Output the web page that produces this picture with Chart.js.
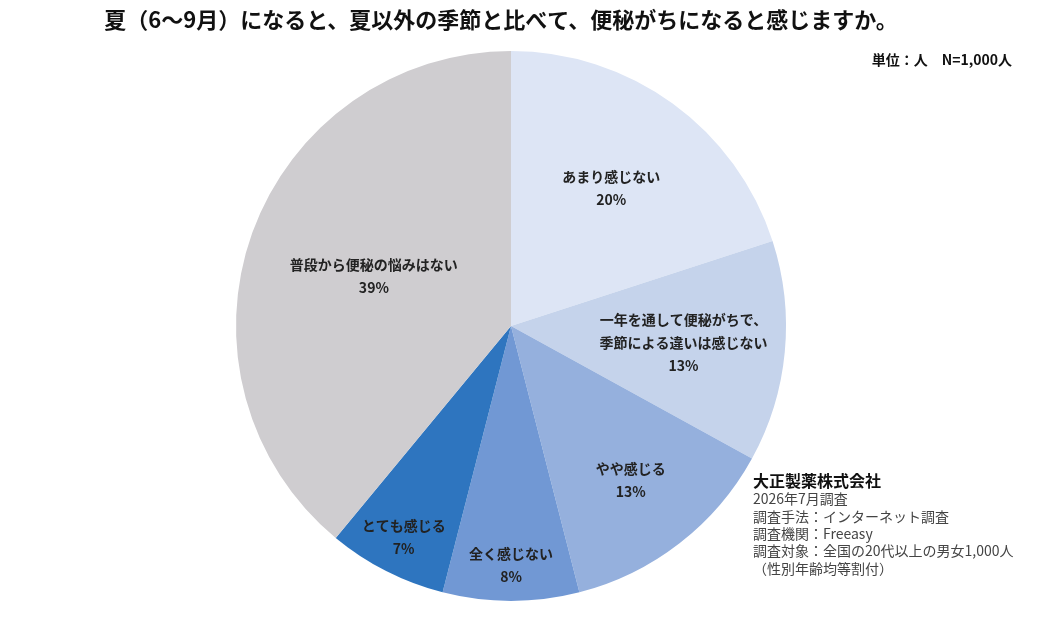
<!DOCTYPE html>
<html lang="ja">
<head>
<meta charset="utf-8">
<script src="https://cdn.jsdelivr.net/npm/chart.js@4"></script>
<style>
  html, body { margin: 0; padding: 0; background: #fff; }
  #wrap { width: 1060px; height: 618px; position: relative; }
</style>
</head>
<body>
<div id="wrap"><canvas id="myChart" width="1060" height="618"></canvas></div>
<script>
// data (clockwise from 12 o'clock)
const categories = [
    ['あまり感じない'],
    ['一年を通して便秘がちで、', '季節による違いは感じない'],
    ['やや感じる'],
    ['全く感じない'],
    ['とても感じる'],
    ['普段から便秘の悩みはない']
];
const shares = [20, 13, 13, 8, 7, 39];

const titleText = '夏（6～9月）になると、夏以外の季節と比べて、便秘がちになると感じますか。';
const unitText = '単位：人　N=1,000人';
const noteHead = '大正製薬株式会社';
const noteLines = [
    '2026年7月調査',
    '調査手法：インターネット調査',
    '調査機関：Freeasy',
    '調査対象：全国の20代以上の男女1,000人',
    '（性別年齢均等割付）'
];

// styles
const sliceColors = ['#dde5f5', '#c5d3eb', '#95b0dd', '#7198d4', '#2e75bf', '#cfcdd0'];
const labelRadius = [0.62, 0.63, 0.71, 0.87, 0.86, 0.53];
const FONT = '"Noto Sans CJK JP", "Noto Sans", sans-serif';

// slice labels: name lines + percentage, put along the middle angle of each arc
const sliceLabels = {
    id: 'sliceLabels',
    afterDatasetsDraw(c) {
        const ctx = c.ctx;
        const meta = c.getDatasetMeta(0);
        ctx.save();
        ctx.fillStyle = '#222';
        ctx.textAlign = 'center';
        ctx.textBaseline = 'middle';
        ctx.font = '600 14px ' + FONT;
        meta.data.forEach((arc, i) => {
            const p = arc.getProps(['x', 'y', 'startAngle', 'endAngle', 'outerRadius'], true);
            const mid = (p.startAngle + p.endAngle) / 2;
            const r = p.outerRadius * labelRadius[i];
            const cx = p.x + Math.cos(mid) * r;
            const cy = p.y + Math.sin(mid) * r;
            const lines = categories[i].concat([shares[i] + '%']);
            const lh = 23;
            const top = cy - (lines.length - 1) * lh / 2;
            lines.forEach((t, k) => ctx.fillText(t, cx, top + k * lh));
        });
        ctx.restore();
    }
};

// title, unit and survey note
const extraText = {
    id: 'extraText',
    afterDraw(c) {
        const ctx = c.ctx;
        ctx.save();
        ctx.fillStyle = '#111';
        ctx.textBaseline = 'middle';
        ctx.textAlign = 'center';
        ctx.font = 'bold 22px ' + FONT;
        ctx.fillText(titleText, 501, 20);

        ctx.textAlign = 'right';
        ctx.font = 'bold 14px ' + FONT;
        ctx.fillText(unitText, 1012, 60);

        ctx.textAlign = 'left';
        ctx.font = 'bold 16px ' + FONT;
        ctx.fillText(noteHead, 753, 481);
        ctx.fillStyle = '#444';
        ctx.font = '14px ' + FONT;
        noteLines.forEach((t, k) => ctx.fillText(t, 753, 499 + k * 17.3));
        ctx.restore();
    }
};

const chart = new Chart(document.getElementById('myChart').getContext('2d'), {
    type: 'pie',
    data: {
        labels: categories.map(l => l.join('')),
        datasets: [{
            data: shares,
            backgroundColor: sliceColors,
            borderWidth: 0
        }]
    },
    options: {
        responsive: false,
        animation: false,
        layout: { padding: { left: 236, right: 274, top: 51, bottom: 17 } },
        plugins: {
            legend: { display: false },
            tooltip: { enabled: false },
            title: { display: false }
        }
    },
    plugins: [sliceLabels, extraText]
});
</script>
</body>
</html>
